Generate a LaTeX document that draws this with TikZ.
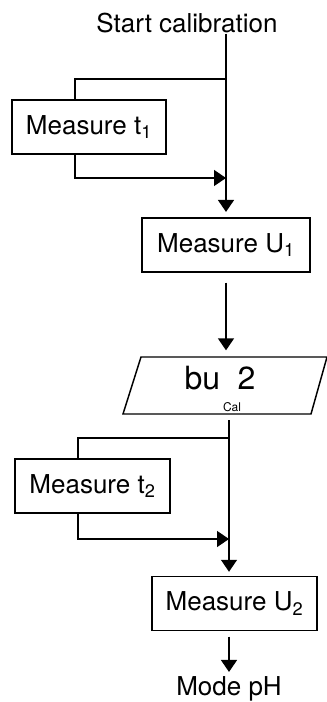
\documentclass[tikz,border=0pt]{standalone}
\usepackage{fontspec}
\setmainfont{TeX Gyre Heros}
\usetikzlibrary{arrows.meta}

\tikzset{every picture/.style={line width=1.1pt}}
\tikzset{
  stepbox/.style={draw, rectangle, minimum height=40.5pt, inner sep=0pt, font=\fontsize{19.5}{23}\selectfont},
  label/.style={inner sep=0pt, font=\fontsize{19.5}{23}\selectfont},
  flow/.style={-{Triangle[width=12pt,length=9pt]}}
}

\begin{document}
\begin{tikzpicture}[x=0.75pt,y=0.75pt,yscale=-1,xscale=1]
	\useasboundingbox (0,0) rectangle (327,702);
	
	% Text Nodes
	\node [label] (start) at (187,23) {Start calibration};
	\node [label] (mode) at (229,689) {Mode pH};
	
	% Boxes
	\node [stepbox, minimum width=115.5pt] (mt1) at (89,127) {Measure t\textsubscript{1}};
	\node [stepbox, minimum width=126pt] (mu1) at (226,245) {Measure U\textsubscript{1}};
	\node [stepbox, minimum width=116.25pt] (mt2) at (92.5,486) {Measure t\textsubscript{2}};
	\node [stepbox, minimum width=123.75pt] (mu2) at (234.5,603.5) {Measure U\textsubscript{2}};
	
	% Display
	\coordinate (dtop) at (226,357);
	\coordinate (dbot) at (226,414);
	\draw (123,414) -- (311,414) -- (327,357) -- (141,357) -- cycle;
	\node [label, font=\fontsize{24}{28}\selectfont] (lcd) at (220,378) {bu\hspace{13pt}2};
	\node [label, font=\fontsize{9}{10}\selectfont] (cal) at (232,407) {Cal};
	
	% Junctions
	\coordinate (split1) at (226,79);
	\coordinate (loop1) at (75,79);
	\coordinate (merge1) at (226,178);
	\coordinate (split2) at (229,438);
	\coordinate (loop2) at (78,438);
	\coordinate (merge2) at (229,539);
	
	% Connectors
	\draw [flow, shorten >=4pt] (start.south -| split1) -- (mu1.north -| split1);
	\draw (split1) -- (loop1) -- (loop1 |- mt1.north);
	\draw [flow] (loop1 |- mt1.south) |- (merge1);
	\draw [flow, shorten <=7.5pt, shorten >=5pt] (mu1.south -| split1) -- (dtop);
	\draw [flow, shorten <=4.5pt, shorten >=3pt] (dbot -| split2) -- (mu2.north -| split2);
	\draw (split2) -- (loop2) -- (loop2 |- mt2.north);
	\draw [flow] (loop2 |- mt2.south) |- (merge2);
	\draw [flow, shorten <=4pt, shorten >=3pt] (mu2.south -| mode) -- (mode.north);
	
\end{tikzpicture}
\end{document}
